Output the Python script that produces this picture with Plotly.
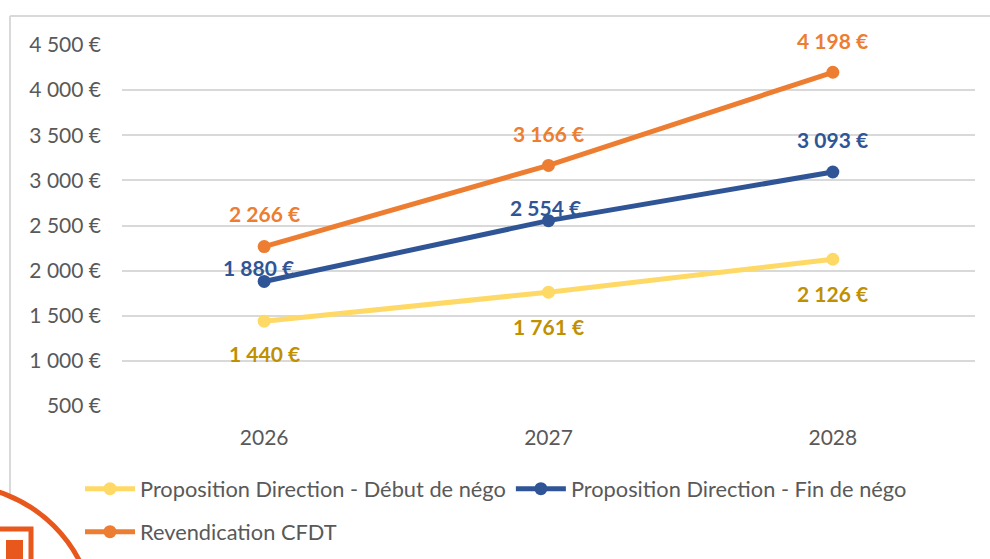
import plotly.graph_objects as go

years = ["2026", "2027", "2028"]
debut_nego = [1440, 1761, 2126]
fin_nego = [1880, 2554, 3093]
cfdt = [2266, 3166, 4198]

names = ["Proposition Direction - Début de négo",
         "Proposition Direction - Fin de négo",
         "Revendication CFDT"]
line_colors = ["#FFD966", "#2F5597", "#ED7D31"]
label_colors = ["#BF9000", "#2F5597", "#ED7D31"]
legend_ids = ["legend", "legend", "legend2"]

y_tickvals = [500, 1000, 1500, 2000, 2500, 3000, 3500, 4000, 4500]
y_ticktext = ["500 €", "1 000 €", "1 500 €", "2 000 €", "2 500 €",
              "3 000 €", "3 500 €", "4 000 €", "4 500 €"]

def fmt(v):
    return f"{v:,}".replace(",", " ") + " €"

FONT = "Lato"
FS = 21
LFS = 21.8
GRAY = "#595959"
W, H = 990, 559

fig = go.Figure()
series = [debut_nego, fin_nego, cfdt]
for vals, name, col, lg in zip(series, names, line_colors, legend_ids):
    fig.add_trace(go.Scatter(
        x=years, y=vals, name=name, mode="lines+markers",
        line=dict(color=col, width=5),
        marker=dict(color=col, size=13),
        legend=lg,
    ))

# label offsets (pixels) per series / point
shifts = [
    [(0, -32), (0, -34), (0, -34)],
    [(-6, 14), (-3, 13), (0, 32)],
    [(0, 33), (0, 32), (0, 32)],
]
annotations = []
for vals, col, sh in zip(series, label_colors, shifts):
    for i, (v, (dx, dy)) in enumerate(zip(vals, sh)):
        annotations.append(dict(
            x=i, y=v, xref="x", yref="y", text=fmt(v), showarrow=False,
            xshift=dx, yshift=dy,
            font=dict(family=FONT, size=FS, color=col, weight="bold"),
        ))

def px(xp):
    return (xp - 122) / 853

def py(yp):
    return (406 - yp) / 361

shapes = [
    # chart-area border (partially cropped)
    dict(type="line", xref="paper", yref="paper",
         x0=px(10), y0=py(559), x1=px(10), y1=py(16),
         line=dict(color="#D9D9D9", width=2)),
    dict(type="line", xref="paper", yref="paper",
         x0=px(10), y0=py(16), x1=px(992), y1=py(16),
         line=dict(color="#D9D9D9", width=2)),
    # logo fragment
    dict(type="circle", xref="paper", yref="paper",
         x0=px(-185), x1=px(95), y0=py(765), y1=py(485),
         line=dict(color="#E8581C", width=5), fillcolor="white"),
    dict(type="rect", xref="paper", yref="paper",
         x0=px(-10), x1=px(31), y0=py(570), y1=py(529),
         line=dict(color="#E8581C", width=5), fillcolor="rgba(0,0,0,0)"),
    dict(type="rect", xref="paper", yref="paper",
         x0=px(6), x1=px(23), y0=py(570), y1=py(540),
         line=dict(width=0), fillcolor="#E8581C"),
]

legend_common = dict(orientation="h", xanchor="left", yanchor="middle",
                     xref="container", yref="container",
                     font=dict(family=FONT, size=LFS, color=GRAY),
                     bgcolor="rgba(0,0,0,0)", itemwidth=50)

fig.update_layout(
    width=W, height=H,
    margin=dict(l=122, r=15, t=45, b=153, autoexpand=False),
    paper_bgcolor="white", plot_bgcolor="white",
    font=dict(family=FONT, size=FS, color=GRAY),
    showlegend=True,
    legend=dict(x=80 / W, y=1 - 489 / H, **legend_common),
    legend2=dict(x=80 / W, y=1 - 532 / H, **legend_common),
    annotations=annotations,
    shapes=shapes,
    xaxis=dict(type="category", range=[-0.5, 2.5], showgrid=False,
               showline=False, zeroline=False, ticks="",
               tickfont=dict(family=FONT, size=FS, color=GRAY),
               ticklabelstandoff=17),
    yaxis=dict(range=[500, 4500], tickvals=y_tickvals, ticktext=y_ticktext,
               showgrid=True, gridcolor="#D9D9D9", gridwidth=2,
               zeroline=False, showline=False, ticks="",
               tickfont=dict(family=FONT, size=FS, color=GRAY),
               ticklabelstandoff=20),
)

fig.write_html("out.html",
               config={"displayModeBar": False},
               post_script="document.body.style.margin='0';")
